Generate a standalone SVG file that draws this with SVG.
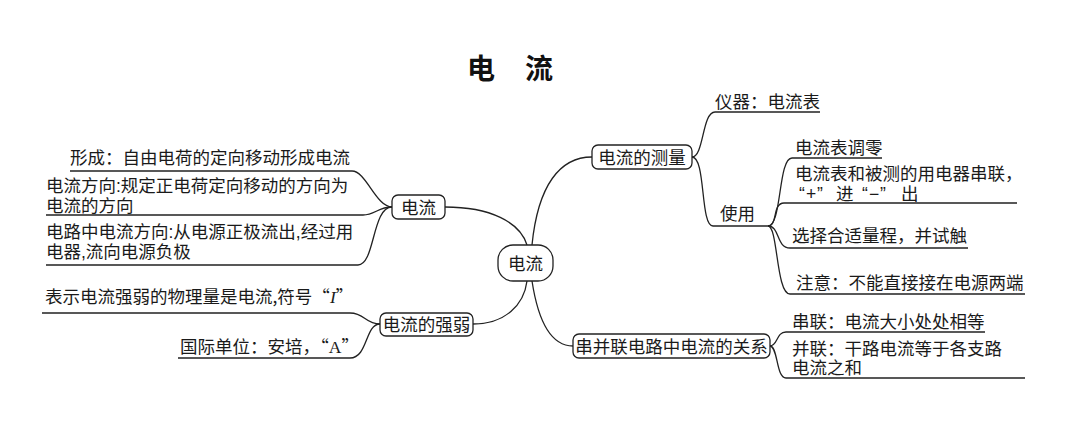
<svg xmlns="http://www.w3.org/2000/svg" width="1080" height="438" viewBox="0 0 1080 438">
<style>
.t{font-family:"Noto Sans CJK SC","Noto Sans",sans-serif;font-size:17.5px;fill:#1a1a1a}
.m{font-family:"Liberation Sans","Noto Sans CJK SC",sans-serif}
.title{font-family:"Noto Sans CJK SC",sans-serif;font-size:28px;font-weight:bold;fill:#111;letter-spacing:1px}
.box{fill:#fff;stroke:#222;stroke-width:1.3}
.ln{fill:none;stroke:#222;stroke-width:1.3}
.c{text-anchor:middle}
.i{font-family:"Liberation Serif",serif;font-style:italic}
.s{font-family:"Liberation Serif",serif}
</style>
<rect width="1080" height="438" fill="#fff"/>
<text class="title" x="467" y="79">电　流</text>

<g id="connectors">
<path class="ln" d="M445,207 C490,207 520,222 527,245"/>
<path class="ln" d="M473,324 C505,324 524,305 527,281"/>
<path class="ln" d="M532,245 C538,185 560,157 592,157"/>
<path class="ln" d="M532,281 C538,320 550,346 573,346"/>
<path class="ln" d="M70,171 H352 C366,171 376,207 392,207"/>
<path class="ln" d="M46,215 H363 C375,215 378,207 392,207"/>
<path class="ln" d="M46,265 H358 C375,265 372,207 392,207"/>
<path class="ln" d="M42,313 H350 C365,313 365,324 380,324"/>
<path class="ln" d="M178,358 H350 C368,358 365,324 380,324"/>
<path class="ln" d="M692,157 C704,157 702,112 715,112 H820"/>
<path class="ln" d="M692,157 C706,157 700,226 713,226 H768"/>
<path class="ln" d="M768,226 C782,226 778,158 792,158 H882"/>
<path class="ln" d="M768,226 C778,226 772,203 784,203 H1017"/>
<path class="ln" d="M768,226 C780,226 776,248 790,248 H968"/>
<path class="ln" d="M768,226 C778,226 776,294 790,294 H1025"/>
<path class="ln" d="M770,346 C778,346 776,332 786,332 H985"/>
<path class="ln" d="M770,346 C778,346 776,378 786,378 H1025"/>
</g>

<g id="center">
<rect class="box" x="498" y="245" width="55" height="36" rx="15"/>
<text class="t c" x="525.5" y="269.5">电流</text>
</g>

<g id="node-dianliu">
<rect class="box" x="392" y="195" width="53" height="24" rx="6"/>
<text class="t c" x="418.5" y="213.5">电流</text>
</g>
<g id="leaf-xingcheng"><text class="t" x="70" y="163.5">形成：自由电荷的定向移动形成电流</text></g>
<g id="leaf-fangxiang">
<text class="t m" x="46" y="191.5">电流方向:规定正电荷定向移动的方向为<tspan x="46" dy="20">电流的方向</tspan></text>
</g>
<g id="leaf-dianlu">
<text class="t m" x="46" y="237.5">电路中电流方向:从电源正极流出,经过用<tspan x="46" dy="20.5">电器,流向电源负极</tspan></text>
</g>

<g id="node-qiangruo">
<rect class="box" x="380" y="313" width="93" height="23" rx="6"/>
<text class="t c" x="426.5" y="331">电流的强弱</text>
</g>
<g id="leaf-biaoshi"><text class="t" x="45" y="302.5">表示电流强弱的物理量是电流,符号“<tspan class="i">I</tspan>”</text></g>
<g id="leaf-danwei"><text class="t" x="180" y="352.5">国际单位：安培，“<tspan class="s">A</tspan>”</text></g>

<g id="node-celiang">
<rect class="box" x="592" y="145" width="100" height="24" rx="6"/>
<text class="t c" x="642" y="163.5">电流的测量</text>
</g>
<g id="leaf-yiqi"><text class="t" x="715" y="107.5">仪器：电流表</text></g>
<g id="node-shiyong"><text class="t" x="720" y="219.5">使用</text></g>
<g id="leaf-tiaoling"><text class="t" x="795" y="153.5">电流表调零</text></g>
<g id="leaf-chuanlian">
<text class="t m" x="795" y="180">电流表和被测的用电器串联，<tspan x="799 806 817 836 862 869 880 901" dy="20">“+”进“−”出</tspan></text>
</g>
<g id="leaf-liangcheng"><text class="t" x="792" y="241.5">选择合适量程，并试触</text></g>
<g id="leaf-zhuyi"><text class="t" x="796" y="289">注意：不能直接接在电源两端</text></g>

<g id="node-guanxi">
<rect class="box" x="573" y="334" width="197" height="24" rx="6"/>
<text class="t c" x="671.5" y="352.5">串并联电路中电流的关系</text>
</g>
<g id="leaf-chuan"><text class="t" x="792" y="328">串联：电流大小处处相等</text></g>
<g id="leaf-bing">
<text class="t m" x="792" y="354.5">并联：干路电流等于各支路<tspan x="792" dy="19.5">电流之和</tspan></text>
</g>
</svg>
